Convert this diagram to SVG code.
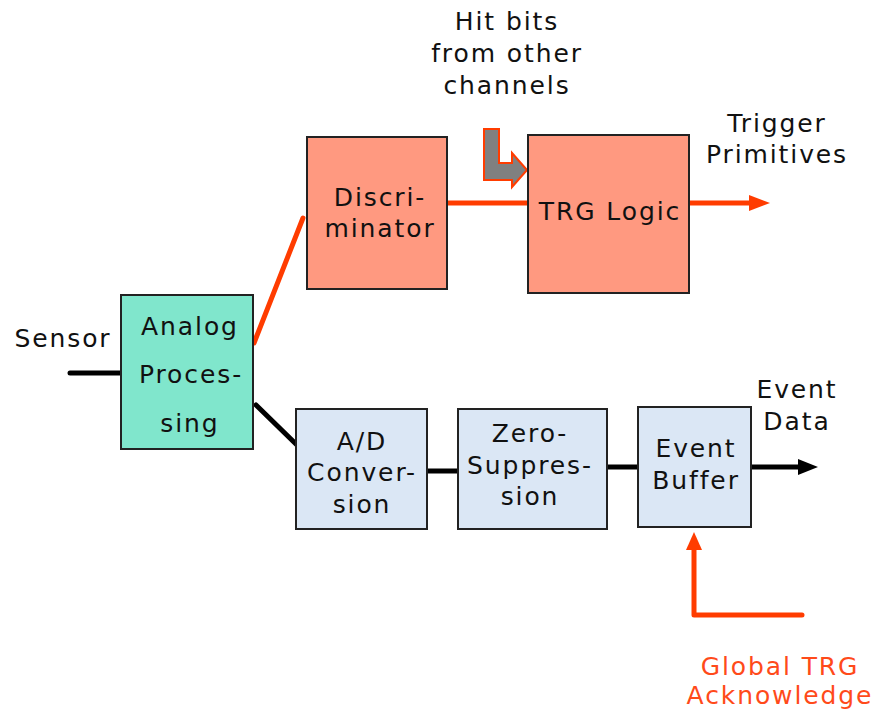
<svg xmlns="http://www.w3.org/2000/svg" width="880" height="710" viewBox="0 0 880 710">
  <style>
    text { font-family: "DejaVu Sans", Verdana, sans-serif; font-size: 25px; letter-spacing: 1.9px; fill: #111; text-anchor: middle; }
    .ack { fill: #ff4a1a; }
    .box { stroke: #222; stroke-width: 2; }
    .trg { fill: #ff9980; }
    .ana { fill: #80e6cc; }
    .daq { fill: #dbe7f5; }
    .red { stroke: #ff3c00; stroke-width: 5; stroke-linecap: round; fill: none; }
    .blk { stroke: #000; stroke-width: 5; stroke-linecap: round; fill: none; }
    .head-red { fill: #ff3c00; }
    .head-blk { fill: #000; }
  </style>

  <!-- free labels -->
  <text x="63" y="347">Sensor</text>
  <g id="hit-bits-label">
    <text x="507" y="30">Hit bits</text>
    <text x="507" y="62">from other</text>
    <text x="507" y="94">channels</text>
  </g>
  <g id="trigger-primitives-label">
    <text x="777" y="132">Trigger</text>
    <text x="777" y="163">Primitives</text>
  </g>
  <g id="event-data-label">
    <text x="797" y="398">Event</text>
    <text x="797" y="430">Data</text>
  </g>
  <g id="ack-label">
    <text class="ack" x="780" y="675">Global TRG</text>
    <text class="ack" x="780" y="704">Acknowledge</text>
  </g>

  <!-- connectors -->
  <g id="connectors">
    <line class="blk" x1="70" y1="373" x2="121" y2="373"/>
    <line class="red" x1="254" y1="343" x2="303" y2="218"/>
    <line class="blk" x1="256" y1="405" x2="299" y2="447"/>
    <line class="red" x1="447" y1="203" x2="528" y2="203"/>
    <line class="red" x1="689" y1="203" x2="752" y2="203" stroke-linecap="butt"/>
    <path class="head-red" d="M749,195 L770,203 L749,211 Z"/>
    <line class="blk" x1="427" y1="471" x2="458" y2="471"/>
    <line class="blk" x1="607" y1="467" x2="638" y2="467"/>
    <line class="blk" x1="751" y1="467" x2="800" y2="467" stroke-linecap="butt"/>
    <path class="head-blk" d="M798,459 L818,467 L798,475 Z"/>
    <polyline class="red" points="802,615 694,615 694,547" stroke-linejoin="round"/>
    <path class="head-red" d="M686,550 L694,532 L702,550 Z"/>
    <!-- hit-bit input arrow -->
    <path d="M484,129 L499,129 L499,163 L512,163 L512,153 L527,170 L512,187 L512,180 L484,180 Z" fill="#808080" stroke="#ff3c00" stroke-width="2" stroke-linejoin="miter"/>
  </g>

  <!-- trigger path -->
  <g id="discriminator">
    <rect class="box trg" x="307" y="137" width="140" height="152"/>
    <text x="380" y="206">Discri-</text>
    <text x="380" y="237">minator</text>
  </g>
  <g id="trg-logic">
    <rect class="box trg" x="528" y="135" width="161" height="158"/>
    <text x="610" y="220">TRG Logic</text>
  </g>

  <!-- analog front end -->
  <g id="analog-processing">
    <rect class="box ana" x="121" y="295" width="132" height="154"/>
    <text x="190" y="335">Analog</text>
    <text x="191" y="383">Proces-</text>
    <text x="190" y="432">sing</text>
  </g>

  <!-- readout path -->
  <g id="ad-conversion">
    <rect class="box daq" x="296" y="409" width="131" height="120"/>
    <text x="362" y="450">A/D</text>
    <text x="362" y="481">Conver-</text>
    <text x="362" y="513">sion</text>
  </g>
  <g id="zero-suppression">
    <rect class="box daq" x="458" y="409" width="149" height="120"/>
    <text x="530" y="442">Zero-</text>
    <text x="530" y="474">Suppres-</text>
    <text x="530" y="505">sion</text>
  </g>
  <g id="event-buffer">
    <rect class="box daq" x="638" y="407" width="113" height="120"/>
    <text x="696" y="457">Event</text>
    <text x="696" y="489">Buffer</text>
  </g>
</svg>
